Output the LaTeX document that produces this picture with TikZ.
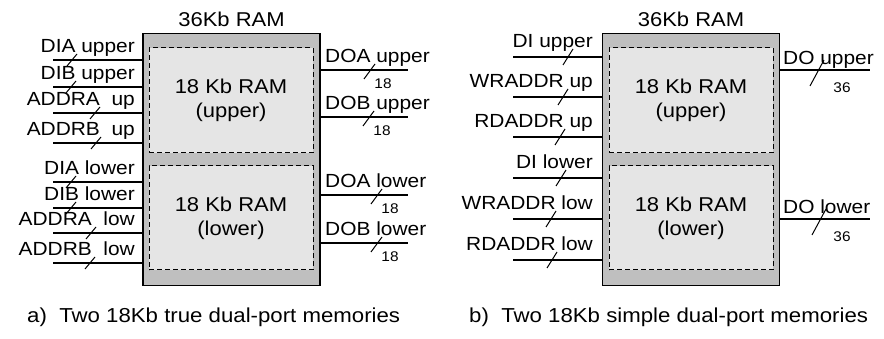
\documentclass[tikz,border=0pt]{standalone}
\usepackage{fontspec}
\setmainfont{Liberation Sans}[FakeStretch=1.1]
\usetikzlibrary{positioning}

\tikzset{
  ram/.style={draw, line width=1.8pt, fill=gray!50, minimum width=177pt, minimum height=252pt, inner sep=0pt},
  halfram/.style={draw, dashed, dash pattern=on 5pt off 3pt, line width=1pt, fill=gray!20,
    minimum width=164pt, minimum height=105pt, align=center, font=\fontsize{20}{24}\selectfont},
  port/.style={line width=2pt},
  buscut/.style={line width=1pt},
  portlbl/.style={font=\fontsize{19}{22}\selectfont, inner sep=0pt},
  buswd/.style={font=\fontsize{14}{16}\selectfont, inner sep=0pt},
  caption/.style={font=\fontsize{20.2}{24}\selectfont, inner sep=0pt, anchor=base west}
}

\begin{document}
\begin{tikzpicture}[x=1pt, y=-1pt]
  \useasboundingbox (0,0) rectangle (884,339);

  % a) true dual-port: block + two halves
  \node[ram] (ramA) at (231.5,159.5) {};
  \node[halfram] (upA) at (231,100.5) {18 Kb RAM\\(upper)};
  \node[halfram, minimum height=104pt] (loA) at (231,218) {18 Kb RAM\\(lower)};
  \node[anchor=south, yshift=2pt, font=\fontsize{20}{24}\selectfont] (titleA) at (ramA.north) {36Kb RAM};

  % a) inputs
  \foreach \yy/\lbl/\cx/\nm in {60/DIA upper/72/1, 87/DIB upper/71/2, 113/ADDRA\ \ up/95/3, 143/ADDRB\ \ up/96/4,
                                182/DIA lower/71/5, 208/DIB lower/71/6, 233/ADDRA\ \ low/91/7, 263/ADDRB\ \ low/90/8} {
    \coordinate (inA\nm) at (53,\yy);
    \draw[port] (inA\nm) -- (inA\nm -| ramA.west);
    \draw[buscut] (\cx-5,\yy+6) -- (\cx+5,\yy-6);
    \node[portlbl, anchor=base east] (lblinA\nm) at (135,\yy-7) {\lbl};
  }

  % a) outputs
  \foreach \yy/\lbl/\cx/\nm in {70/DOA upper/370/1, 117/DOB upper/369/2, 195/DOA lower/377/3, 243/DOB lower/377/4} {
    \coordinate (outA\nm) at (408,\yy);
    \draw[port] (outA\nm -| ramA.east) -- (outA\nm);
    \draw[buscut] (\cx-6,\yy+9) -- (\cx+5,\yy-6);
    \node[buswd] (wdA\nm) at (\cx+13,\yy+14) {18};
    \node[portlbl, anchor=base west] (lbloutA\nm) at (325,\yy-7) {\lbl};
  }

  % b) simple dual-port: block + two halves
  \node[ram] (ramB) at (691,159.5) {};
  \node[halfram] (upB) at (691,100.5) {18 Kb RAM\\(upper)};
  \node[halfram, minimum height=104pt] (loB) at (691,218) {18 Kb RAM\\(lower)};
  \node[anchor=south, yshift=2pt, font=\fontsize{20}{24}\selectfont] (titleB) at (ramB.north) {36Kb RAM};

  % b) inputs
  \foreach \yy/\lbl/\cx/\nm in {57/DI upper/568/1, 97/WRADDR up/563/2, 137/RDADDR up/560/3,
                                178/DI lower/561/4, 219/WRADDR low/551/5, 260/RDADDR low/552/6} {
    \coordinate (inB\nm) at (513,\yy);
    \draw[port] (inB\nm) -- (inB\nm -| ramB.west);
    \draw[buscut] (\cx-5,\yy+8) -- (\cx+5,\yy-8);
    \node[portlbl, anchor=base east] (lblinB\nm) at (593,\yy-9) {\lbl};
  }

  % b) outputs
  \foreach \yy/\lbl/\cx/\nm in {70/DO upper/817/1, 219/DO lower/819/2} {
    \coordinate (outB\nm) at (870,\yy);
    \draw[port] (outB\nm -| ramB.east) -- (outB\nm);
    \draw[buscut] (\cx-7,\yy+16) -- (\cx+7,\yy-10);
    \node[buswd] (wdB\nm) at (842,\yy+18) {36};
    \node[portlbl, anchor=base west] (lbloutB\nm) at (783,\yy-5) {\lbl};
  }

  % captions
  \node[caption] (capA) at (27,322) {a)\ \ Two 18Kb true dual-port memories};
  \node[caption] (capB) at (469,322) {b)\ \ Two 18Kb simple dual-port memories};
\end{tikzpicture}
\end{document}
